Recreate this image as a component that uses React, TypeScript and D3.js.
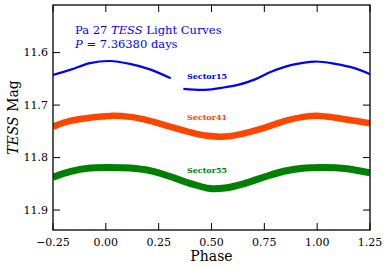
import React from "react";
import * as d3 from "d3";

const xTicks = [-0.25, 0, 0.25, 0.5, 0.75, 1.0, 1.25];
const yTicks = [11.6, 11.7, 11.8, 11.9];

const s15aPhase = [-0.25, -0.17, -0.075, 0.02, 0.114, 0.209, 0.307];
const s15aMag = [11.6425, 11.633, 11.62, 11.616, 11.6215, 11.632, 11.649];
const s15bPhase = [0.367, 0.469, 0.564, 0.625, 0.706, 0.785, 0.88, 0.99, 1.085, 1.18, 1.25];
const s15bMag = [11.669, 11.671, 11.666, 11.6615, 11.651, 11.636, 11.6235, 11.617, 11.6215, 11.63, 11.641];

const s41Phase = [-0.25, -0.17, -0.075, 0.02, 0.114, 0.209, 0.304, 0.398, 0.469, 0.564, 0.659, 0.753, 0.848, 0.943, 1.014, 1.085, 1.179, 1.25];
const s41Mag = [11.741, 11.73, 11.724, 11.7206, 11.7225, 11.73, 11.741, 11.7517, 11.758, 11.76, 11.7535, 11.743, 11.73, 11.722, 11.7206, 11.724, 11.73, 11.7345];

const s55Phase = [-0.25, -0.17, -0.075, 0.02, 0.114, 0.209, 0.304, 0.398, 0.493, 0.564, 0.659, 0.753, 0.848, 0.943, 1.037, 1.13, 1.25];
const s55Mag = [11.8375, 11.8267, 11.82, 11.819, 11.82, 11.825, 11.836, 11.849, 11.859, 11.858, 11.849, 11.8365, 11.8255, 11.82, 11.819, 11.821, 11.829];

const sectorNames = ["Sector15", "Sector41", "Sector55"];
const sectorColors = ["#0000ff", "#ff4500", "#008000"];
const sectorLabelMag = [11.644, 11.7235, 11.8245];

const W = 390, H = 269;
const M = { left: 53, right: 20, top: 5, bottom: 39 };

export default function App() {
  const x = d3.scaleLinear().domain([-0.25, 1.25]).range([M.left, W - M.right]);
  const y = d3.scaleLinear().domain([11.5093, 11.938]).range([M.top, H - M.bottom]);
  const line = d3
    .line<[number, number]>()
    .x((d) => x(d[0]))
    .y((d) => y(d[1]))
    .curve(d3.curveCatmullRom);
  const zip = (p: number[], m: number[]) => p.map((v, i) => [v, m[i]] as [number, number]);
  const font = "DejaVu Serif, serif";
  const tickLen = 7;
  const x0 = M.left, x1 = W - M.right, y0 = M.top, y1 = H - M.bottom;
  const series = [
    { d: [zip(s15aPhase, s15aMag), zip(s15bPhase, s15bMag)], w: 2.2 },
    { d: [zip(s41Phase, s41Mag)], w: 6.5 },
    { d: [zip(s55Phase, s55Mag)], w: 7 },
  ];
  return (
    <svg width={W} height={H} style={{ position: "fixed", left: 0, top: 0, background: "#fff" }}>
      <defs>
        <clipPath id="plot">
          <rect x={x0} y={y0} width={x1 - x0} height={y1 - y0} />
        </clipPath>
      </defs>
      <g clipPath="url(#plot)">
        {series.map((s, i) =>
          s.d.map((seg, j) => (
            <path key={i + "-" + j} d={line(seg) || ""} fill="none" stroke={sectorColors[i]} strokeWidth={s.w} strokeLinecap="butt" />
          ))
        )}
      </g>
      {sectorNames.map((n, i) => (
        <text key={n} x={207} y={y(sectorLabelMag[i])} fill={sectorColors[i]} fontFamily={font} fontWeight="bold" fontSize={8} textAnchor="middle" dominantBaseline="central">
          {n}
        </text>
      ))}
      <text x={75} y={34} fill="#0000ff" fontFamily={font} fontSize={11.5}>
        Pa 27 <tspan fontStyle="italic">TESS</tspan> Light Curves
      </text>
      <text x={75} y={47.5} fill="#0000ff" fontFamily={font} fontSize={11.5}>
        <tspan fontStyle="italic">P</tspan> = 7.36380 days
      </text>
      {xTicks.map((t) => (
        <g key={"x" + t}>
          <line x1={x(t)} x2={x(t)} y1={y1} y2={y1 - tickLen} stroke="#000" strokeWidth={1} />
          <line x1={x(t)} x2={x(t)} y1={y0} y2={y0 + tickLen} stroke="#000" strokeWidth={1} />
          <text x={x(t)} y={y1 + 12} fontFamily={font} fontSize={11} textAnchor="middle" dominantBaseline="central">
            {d3.format(".2f")(t).replace("-", "\u2212")}
          </text>
        </g>
      ))}
      {yTicks.map((t) => (
        <g key={"y" + t}>
          <line x1={x0} x2={x0 + tickLen} y1={y(t)} y2={y(t)} stroke="#000" strokeWidth={1} />
          <line x1={x1} x2={x1 - tickLen} y1={y(t)} y2={y(t)} stroke="#000" strokeWidth={1} />
          <text x={x0 - 5} y={y(t)} fontFamily={font} fontSize={11} textAnchor="end" dominantBaseline="central">
            {d3.format(".1f")(t)}
          </text>
        </g>
      ))}
      <rect x={x0} y={y0} width={x1 - x0} height={y1 - y0} fill="none" stroke="#000" strokeWidth={1.3} />
      <text x={(x0 + x1) / 2} y={256} fontFamily={font} fontSize={14} textAnchor="middle" dominantBaseline="central">
        Phase
      </text>
      <text transform={`translate(13,${(y0 + y1) / 2}) rotate(-90)`} fontFamily={font} fontSize={14} textAnchor="middle" dominantBaseline="central">
        <tspan fontStyle="italic">TESS</tspan> Mag
      </text>
    </svg>
  );
}
